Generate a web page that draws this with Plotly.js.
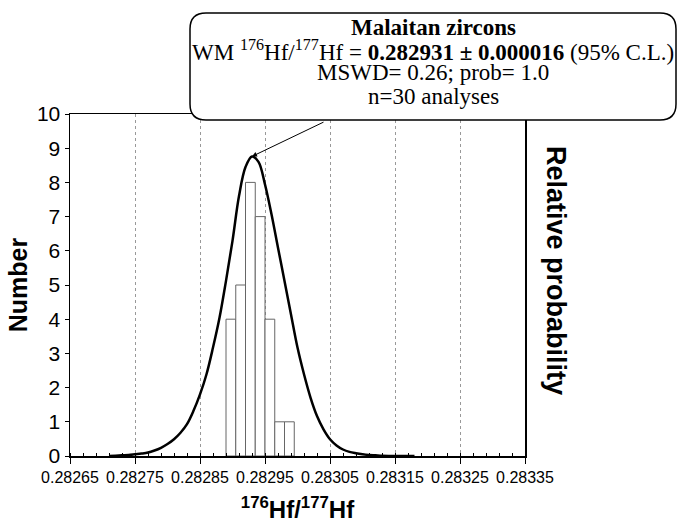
<!DOCTYPE html>
<html>
<head>
<meta charset="utf-8">
<script src="https://cdn.plot.ly/plotly-3.0.1.min.js"></script>
<style>html,body{margin:0;padding:0;background:#fff;}#chart{width:677px;height:523px;}</style>
</head>
<body>
<div id="chart"></div>
<script>
// ---- data ----
var binCenters = [0.2828975, 0.2829125, 0.2829275, 0.2829425, 0.2829575, 0.2829725, 0.2829875];
var binCounts  = [4, 5, 8, 7, 4, 1, 1];
var binWidth = 0.000015;

var curveX = [0.28271, 0.28272, 0.28273, 0.28274, 0.28275, 0.28276, 0.28277, 0.28278, 0.28279, 0.28280,
              0.28281, 0.28282, 0.28283, 0.28284, 0.28285, 0.28286, 0.28287, 0.28288, 0.28289, 0.28290,
              0.28291, 0.28292, 0.28293, 0.28294, 0.28295, 0.28296, 0.28297, 0.28298, 0.28299, 0.28300,
              0.28301, 0.28302, 0.28303, 0.28304, 0.28305, 0.28306, 0.28307, 0.28308, 0.28309, 0.28310,
              0.28311, 0.28312, 0.28313, 0.28315, 0.28318];
var curveY = [0.0, 0.01, 0.02, 0.03, 0.05, 0.07, 0.10, 0.16, 0.24, 0.35,
              0.49, 0.68, 0.93, 1.32, 1.80, 2.39, 3.17, 4.04, 5.12, 6.29,
              7.60, 8.45, 8.76, 8.60, 7.94, 7.07, 6.09, 5.12, 4.14, 3.17,
              2.39, 1.71, 1.17, 0.78, 0.49, 0.31, 0.19, 0.12, 0.08, 0.05,
              0.03, 0.02, 0.01, 0.0, 0.0];

var xTickVals = [0.28265, 0.28275, 0.28285, 0.28295, 0.28305, 0.28315, 0.28325, 0.28335];
var xTickText = ['0.28265', '0.28275', '0.28285', '0.28295', '0.28305', '0.28315', '0.28325', '0.28335'];

var boxLines = [
  '<b>Malaitan zircons</b>',
  'WM <sup>176</sup>Hf/<sup>177</sup>Hf = <b>0.282931 ± 0.000016</b> (95% C.L.)',
  'MSWD= 0.26; prob= 1.0',
  'n=30 analyses'
];

// ---- layout geometry ----
var W = 677, H = 523;
var M = {l: 70, r: 152, t: 114, b: 67};
var PW = W - M.l - M.r, PH = H - M.t - M.b;
function PX(px) { return (px - M.l) / PW; }
function PY(py) { return (H - M.b - py) / PH; }

function roundRect(x0, y0, x1, y1, r) {
  var p = [];
  p.push('M' + PX(x0 + r) + ',' + PY(y0));
  p.push('L' + PX(x1 - r) + ',' + PY(y0));
  p.push('Q' + PX(x1) + ',' + PY(y0) + ' ' + PX(x1) + ',' + PY(y0 + r));
  p.push('L' + PX(x1) + ',' + PY(y1 - r));
  p.push('Q' + PX(x1) + ',' + PY(y1) + ' ' + PX(x1 - r) + ',' + PY(y1));
  p.push('L' + PX(x0 + r) + ',' + PY(y1));
  p.push('Q' + PX(x0) + ',' + PY(y1) + ' ' + PX(x0) + ',' + PY(y1 - r));
  p.push('L' + PX(x0) + ',' + PY(y0 + r));
  p.push('Q' + PX(x0) + ',' + PY(y0) + ' ' + PX(x0 + r) + ',' + PY(y0));
  p.push('Z');
  return p.join(' ');
}

var peakIdx = curveY.indexOf(Math.max.apply(null, curveY));

var traces = [
  {
    type: 'bar', x: binCenters, y: binCounts, width: binWidth,
    marker: {color: '#ffffff', line: {color: '#666666', width: 1}},
    hoverinfo: 'none', showlegend: false
  },
  {
    type: 'scatter', mode: 'lines', x: curveX, y: curveY,
    line: {color: '#000000', width: 2.5, shape: 'spline', smoothing: 1},
    hoverinfo: 'none', showlegend: false
  }
];

var serif = 'Liberation Serif, Times New Roman, serif';
var sans = 'Liberation Sans, Arial, sans-serif';
var lineCenters = [28, 50, 73, 96];

var annotations = boxLines.map(function (t, i) {
  return {
    xref: 'paper', yref: 'paper', x: PX(433), y: PY(lineCenters[i]),
    xanchor: 'center', yanchor: 'middle', showarrow: false,
    text: t, font: {family: serif, size: 23, color: '#000'}
  };
});
annotations.push({
  xref: 'x', yref: 'y', x: curveX[peakIdx], y: curveY[peakIdx],
  ax: 73, ay: -35, showarrow: true, arrowhead: 2, arrowsize: 1,
  arrowwidth: 1, arrowcolor: '#000', text: ''
});
annotations.push({
  xref: 'paper', yref: 'paper', x: PX(556), y: PY(270),
  xanchor: 'center', yanchor: 'middle', showarrow: false, textangle: 90,
  text: '<b>Relative probability</b>', font: {family: sans, size: 27, color: '#000'}
});

var layout = {
  width: W, height: H,
  margin: M,
  paper_bgcolor: '#fff', plot_bgcolor: '#fff',
  bargap: 0,
  showlegend: false,
  xaxis: {
    range: [0.28265, 0.28335],
    tickmode: 'array', tickvals: xTickVals, ticktext: xTickText,
    tickfont: {family: sans, size: 16, color: '#000'},
    ticks: 'outside', ticklen: 6, tickcolor: '#000', tickwidth: 1,
    minor: {tickmode: 'linear', tick0: 0.28265, dtick: 0.00002, ticks: 'inside', ticklen: 3, tickcolor: '#000', showgrid: false},
    showgrid: true, gridcolor: '#999', griddash: 'dot', gridwidth: 1,
    showline: true, linecolor: '#000', linewidth: 1.5, mirror: true,
    zeroline: false,
    title: {text: '<b><sup>176</sup>Hf/<sup>177</sup>Hf</b>', font: {family: sans, size: 24, color: '#000'}, standoff: 16}
  },
  yaxis: {
    range: [0, 10], tickmode: 'linear', tick0: 0, dtick: 1,
    tickfont: {family: sans, size: 21, color: '#000'},
    ticks: 'outside', ticklen: 4, tickcolor: '#000',
    showgrid: false, zeroline: false,
    showline: true, linecolor: '#000', linewidth: 1.5, mirror: true,
    title: {text: '<b>Number</b>', font: {family: sans, size: 25, color: '#000'}, standoff: 2}
  },
  shapes: [{
    type: 'path', xref: 'paper', yref: 'paper', layer: 'above',
    path: roundRect(190, 13, 676, 120, 16),
    fillcolor: '#fff', line: {color: '#000', width: 1.5}
  }],
  annotations: annotations
};

Plotly.newPlot('chart', traces, layout, {displayModeBar: false, staticPlot: true});
</script>
</body>
</html>
